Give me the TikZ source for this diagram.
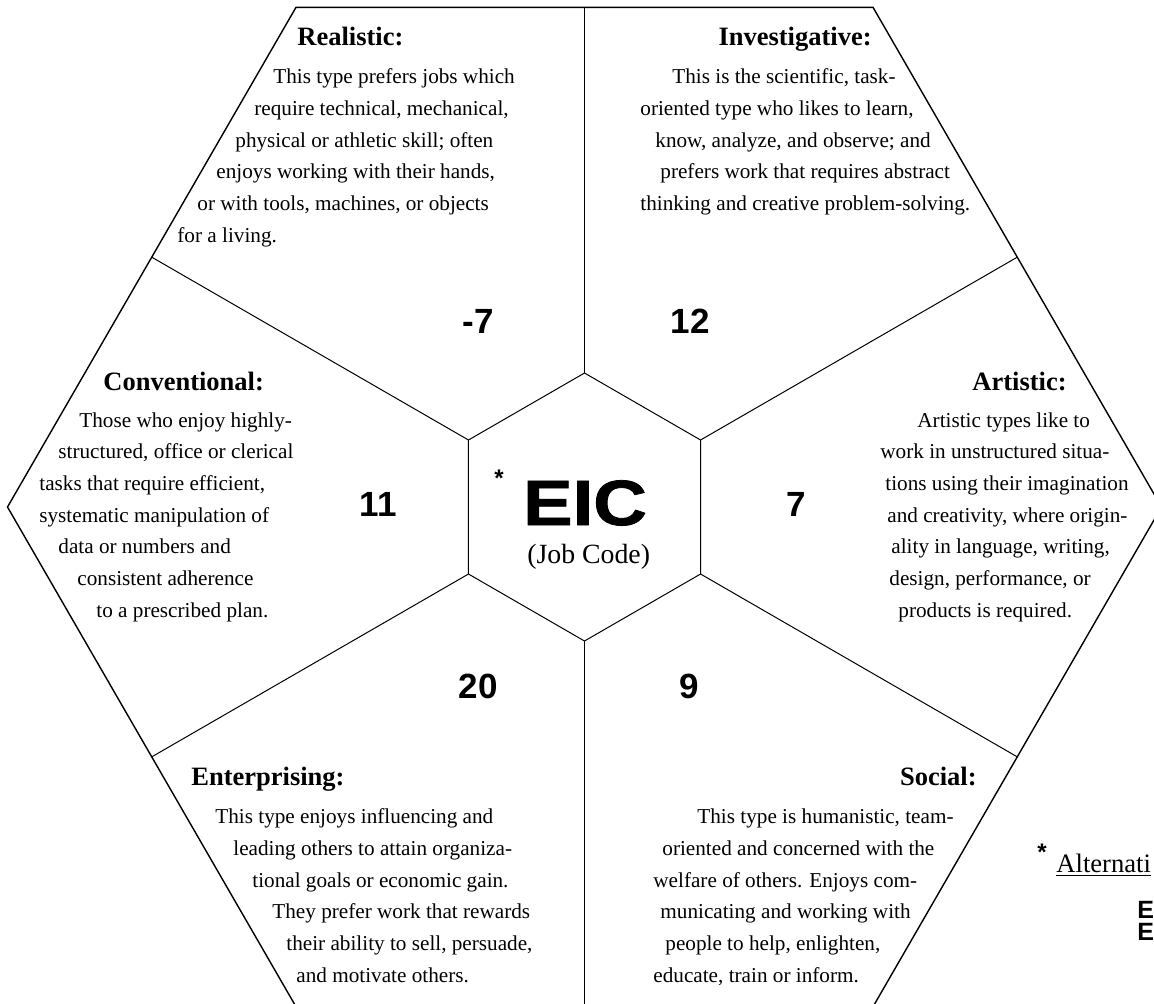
\documentclass[tikz,border=0pt]{standalone}
\usepackage{fontspec}
\setmainfont{Liberation Serif}
\newfontfamily\arialfont{Liberation Sans}
\newfontfamily\eicfont{Liberation Sans}[FakeBold=1.2]
\usetikzlibrary{calc}

\tikzset{
  rim/.style={line width=0.7pt},
  spoke/.style={line width=0.5pt},
  body/.style={anchor=base west, inner sep=0pt, font=\fontsize{10.6}{12}\selectfont},
  head/.style={anchor=base west, inner sep=0pt, font=\fontsize{13.25}{15}\selectfont\bfseries},
  score/.style={anchor=base, inner sep=0pt, font=\arialfont\fontsize{17.5}{20}\selectfont\bfseries},
}

\begin{document}
\begin{tikzpicture}[x=0.5pt,y=-0.5pt]
		\useasboundingbox (0,0) rectangle (1154,1003);
		\clip (0,0) rectangle (1154,1003);
		% hexagon frame
		\coordinate (c) at (584.5,507);
		\foreach \i in {0,...,5} {
			\coordinate (o\i) at ($(c)+(\i*60:577)$);
			\coordinate (m\i) at ($(c)+(\i*60+30:499.7)$);
			\coordinate (h\i) at ($(c)+(\i*60+30:134)$);
		}
		\draw [rim] (o0) -- (o1) -- (o2) -- (o3) -- (o4) -- (o5) -- cycle;
		\draw [spoke] (h0) -- (h1) -- (h2) -- (h3) -- (h4) -- (h5) -- cycle;
		\foreach \i in {0,...,5}
			\draw [spoke] (h\i) -- (m\i);
		% centre
		\node [anchor=base, inner sep=0pt, font=\eicfont\fontsize{32}{34}\selectfont\bfseries] (eic) at (585,525) {\scalebox{1.16}[1]{EIC}};
		\node [anchor=base, inner sep=0pt, font=\fontsize{13.9}{16}\selectfont] (jobcode) at (588.7,563) {(Job Code)};
		\node [inner sep=0pt, font=\arialfont\fontsize{12}{14}\selectfont\bfseries] (star) at (499,478) {*};
		% scores
		\node [score] (sreal) at (478,333) {-7};
		\node [score] (sinv) at (690,333) {12};
		\node [score] (sconv) at (378,516) {11};
		\node [score] (sart) at (796,516) {7};
		\node [score] (sent) at (478,698) {20};
		\node [score] (ssoc) at (689,698) {9};
		% Realistic
		\node [head] (real) at (297,45) {Realistic:};
		\node [body] (real1) at (273,83) {This type prefers jobs which};
		\node [body] (real2) at (254,115) {require technical, mechanical,};
		\node [body] (real3) at (235,147) {physical or athletic skill; often};
		\node [body] (real4) at (216,178) {enjoys working with their hands,};
		\node [body] (real5) at (197,210) {or with tools, machines, or objects};
		\node [body] (real6) at (177,242) {for a living.};
		% Investigative
		\node [head, anchor=base east] (inv) at (872,45) {Investigative:};
		\node [body] (inv1) at (672,83) {This is the scientific, task-};
		\node [body] (inv2) at (640,115) {oriented type who likes to learn,};
		\node [body] (inv3) at (655,147) {know, analyze, and observe; and};
		\node [body] (inv4) at (660,178) {prefers work that requires abstract};
		\node [body] (inv5) at (640,210) {thinking and creative problem-solving.};
		% Conventional
		\node [head] (conv) at (103,390) {Conventional:};
		\node [body] (conv1) at (79,427) {Those who enjoy highly-};
		\node [body] (conv2) at (58,458) {structured, office or clerical};
		\node [body] (conv3) at (39,490) {tasks that require efficient,};
		\node [body] (conv4) at (39,522) {systematic manipulation of};
		\node [body] (conv5) at (58,553) {data or numbers and};
		\node [body] (conv6) at (77,585) {consistent adherence};
		\node [body] (conv7) at (96,617) {to a prescribed plan.};
		% Artistic
		\node [head, anchor=base east] (art) at (1067,390) {Artistic:};
		\node [body] (art1) at (917,427) {Artistic types like to};
		\node [body] (art2) at (880,458) {work in unstructured situa-};
		\node [body] (art3) at (885,490) {tions using their imagination};
		\node [body] (art4) at (887,522) {and creativity, where origin-};
		\node [body] (art5) at (891,553) {ality in language, writing,};
		\node [body] (art6) at (889,585) {design, performance, or};
		\node [body] (art7) at (898,617) {products is required.};
		% Enterprising
		\node [head] (ent) at (191,785) {Enterprising:};
		\node [body] (ent1) at (215,823) {This type enjoys influencing and};
		\node [body] (ent2) at (233,855) {leading others to attain organiza-};
		\node [body] (ent3) at (252,887) {tional goals or economic gain.};
		\node [body] (ent4) at (272,918) {They prefer work that rewards};
		\node [body] (ent5) at (286,950) {their ability to sell, persuade,};
		\node [body] (ent6) at (296,982) {and motivate others.};
		% Social
		\node [head, anchor=base east] (soc) at (977,785) {Social:};
		\node [body] (soc1) at (697,823) {This type is humanistic, team-};
		\node [body] (soc2) at (662,855) {oriented and concerned with the};
		\node [body] (soc3) at (653,887) {welfare of others. Enjoys com-};
		\node [body] (soc4) at (660,918) {municating and working with};
		\node [body] (soc5) at (665,950) {people to help, enlighten,};
		\node [body] (soc6) at (653,982) {educate, train or inform.};
		% footnote
		\node [inner sep=0pt, font=\arialfont\fontsize{12}{14}\selectfont\bfseries] (fstar) at (1042,852) {*};
		\node [body, font=\fontsize{13.3}{15}\selectfont] (alt) at (1056,872) {\underline{Alternati}};
		\node [body, font=\arialfont\fontsize{12.5}{14}\selectfont\bfseries] (alt1) at (1137,918) {E};
		\node [body, font=\arialfont\fontsize{12.5}{14}\selectfont\bfseries] (alt2) at (1137,940) {E};
\end{tikzpicture}
\end{document}
